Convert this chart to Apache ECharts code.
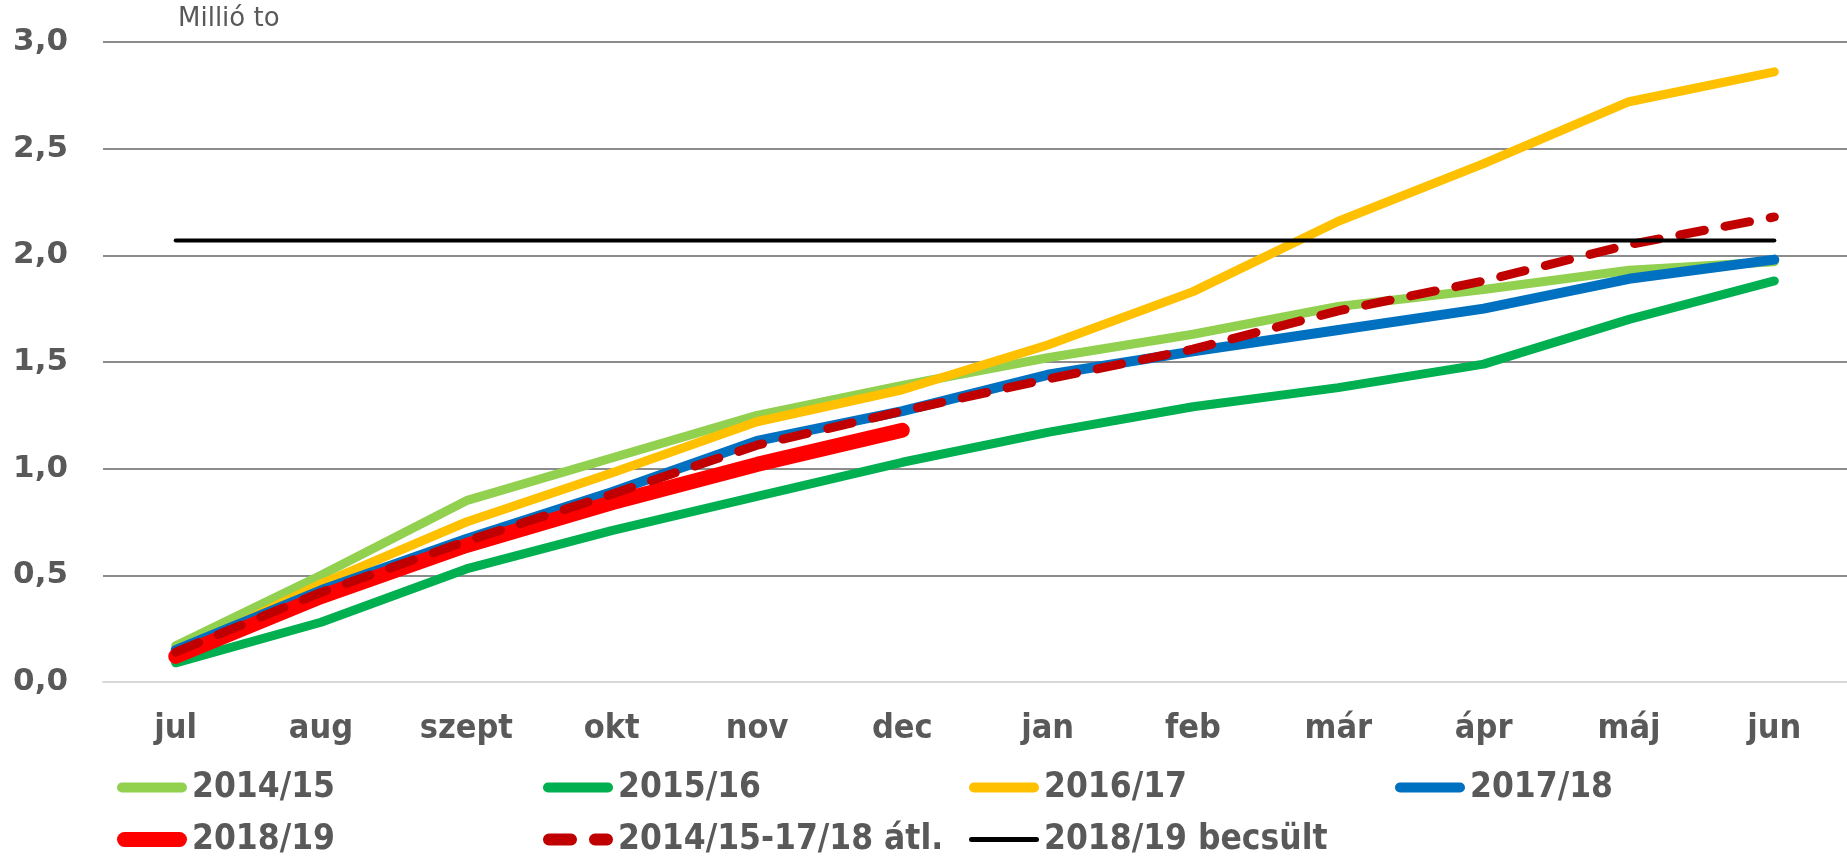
<!DOCTYPE html>
<html>
<head>
<meta charset="utf-8">
<script src="https://cdn.jsdelivr.net/npm/echarts@6/dist/echarts.min.js"></script>
<style>
  html, body { margin: 0; padding: 0; background: #fff; }
  #chart { width: 1847px; height: 858px; }
</style>
</head>
<body>
<div id="chart"></div>
<script>
// hónapok
var months = ['jul', 'aug', 'szept', 'okt', 'nov', 'dec', 'jan', 'feb', 'már', 'ápr', 'máj', 'jun'];
// szezonok (millió tonna, kumulált)
var s1415 = [0.17, 0.50, 0.85, 1.05, 1.25, 1.39, 1.52, 1.63, 1.76, 1.84, 1.93, 1.97];
var s1516 = [0.09, 0.28, 0.53, 0.71, 0.87, 1.03, 1.17, 1.29, 1.38, 1.49, 1.70, 1.88];
var s1617 = [0.13, 0.46, 0.75, 0.98, 1.22, 1.37, 1.58, 1.83, 2.16, 2.43, 2.72, 2.86];
var s1718 = [0.15, 0.43, 0.67, 0.89, 1.13, 1.27, 1.44, 1.55, 1.65, 1.75, 1.89, 1.98];
var s1819 = [0.12, 0.40, 0.64, 0.84, 1.02, 1.18];
var avg = [0.14, 0.42, 0.66, 0.88, 1.11, 1.27, 1.42, 1.56, 1.74, 1.88, 2.05, 2.18];
var becsult = [2.07, 2.07, 2.07, 2.07, 2.07, 2.07, 2.07, 2.07, 2.07, 2.07, 2.07, 2.07];

var names = ['2014/15', '2015/16', '2016/17', '2017/18', '2018/19', '2014/15-17/18 átl.', '2018/19 becsült'];

var font = '"DejaVu Sans Condensed", "DejaVu Sans", sans-serif';
var grey = '#595959';

function lineSeries(name, data, color, width, dash) {
  return {
    name: name,
    type: 'line',
    data: data,
    showSymbol: false,
    symbol: 'none',
    color: color,
    lineStyle: {
      color: color,
      width: width,
      type: dash ? [25, 21] : 'solid',
      cap: 'round',
      join: 'round'
    }
  };
}

// pill alakú ikon, w x h
function pill(w, h) {
  var r = h / 2;
  return 'path://M' + r + ',0 H' + (w - r) + ' A' + r + ',' + r + ' 0 0 1 ' + (w - r) + ',' + h +
    ' H' + r + ' A' + r + ',' + r + ' 0 0 1 ' + r + ',0 Z';
}
var dashIcon = 'path://M6,0 H28 A6,6 0 0 1 28,12 H6 A6,6 0 0 1 6,0 Z M52,0 H64 A6,6 0 0 1 64,12 H52 A6,6 0 0 1 52,0 Z';

function legendItem(name, x, y, h, icon) {
  return {
    data: [name],
    left: x,
    top: y,
    padding: 0,
    itemWidth: 70,
    itemHeight: h,
    icon: icon || pill(70, h),
    selectedMode: false,
    textStyle: {
      color: grey,
      fontFamily: font,
      fontWeight: 'bold',
      fontSize: 35
    }
  };
}

var chart = echarts.init(document.getElementById('chart'));
var option = {
  animation: false,
  backgroundColor: '#fff',
  title: {
    text: 'Millió to',
    left: 178,
    top: 6,
    padding: 0,
    textStyle: {
      color: grey,
      fontFamily: '"DejaVu Sans", sans-serif',
      fontWeight: 'normal',
      fontSize: 26
    }
  },
  grid: {
    left: 103,
    right: -13,
    top: 42,
    bottom: 176,
    containLabel: false
  },
  legend: [
    legendItem(names[0], 117, 770, 10),
    legendItem(names[1], 543, 770, 10),
    legendItem(names[2], 969, 770, 10),
    legendItem(names[3], 1395, 770, 10),
    legendItem(names[4], 117, 822, 15),
    legendItem(names[5], 543, 822, 12, dashIcon),
    legendItem(names[6], 969, 822, 5)
  ],
  xAxis: {
    type: 'category',
    data: months,
    boundaryGap: true,
    axisLine: { lineStyle: { color: '#d9d9d9', width: 2 } },
    axisTick: { show: false },
    axisLabel: {
      color: grey,
      fontFamily: font,
      fontWeight: 'bold',
      fontSize: 34,
      margin: 30,
      interval: 0
    }
  },
  yAxis: {
    type: 'value',
    min: 0,
    max: 3,
    interval: 0.5,
    axisLine: { show: false },
    axisTick: { show: false },
    splitLine: { lineStyle: { color: '#8c8c8c', width: 2 } },
    axisLabel: {
      color: grey,
      fontFamily: '"DejaVu Sans", sans-serif',
      fontWeight: 'bold',
      fontSize: 31,
      margin: 35,
      formatter: function (v) { return v.toFixed(1).replace('.', ','); }
    }
  },
  series: [
    lineSeries(names[0], s1415, '#92D050', 9),
    lineSeries(names[1], s1516, '#00B050', 9),
    lineSeries(names[2], s1617, '#FFC000', 9),
    lineSeries(names[3], s1718, '#0070C0', 10),
    lineSeries(names[4], s1819, '#FF0000', 15),
    lineSeries(names[5], avg, '#C00000', 9, true),
    lineSeries(names[6], becsult, '#000000', 4)
  ]
};
chart.setOption(option);
</script>
</body>
</html>
